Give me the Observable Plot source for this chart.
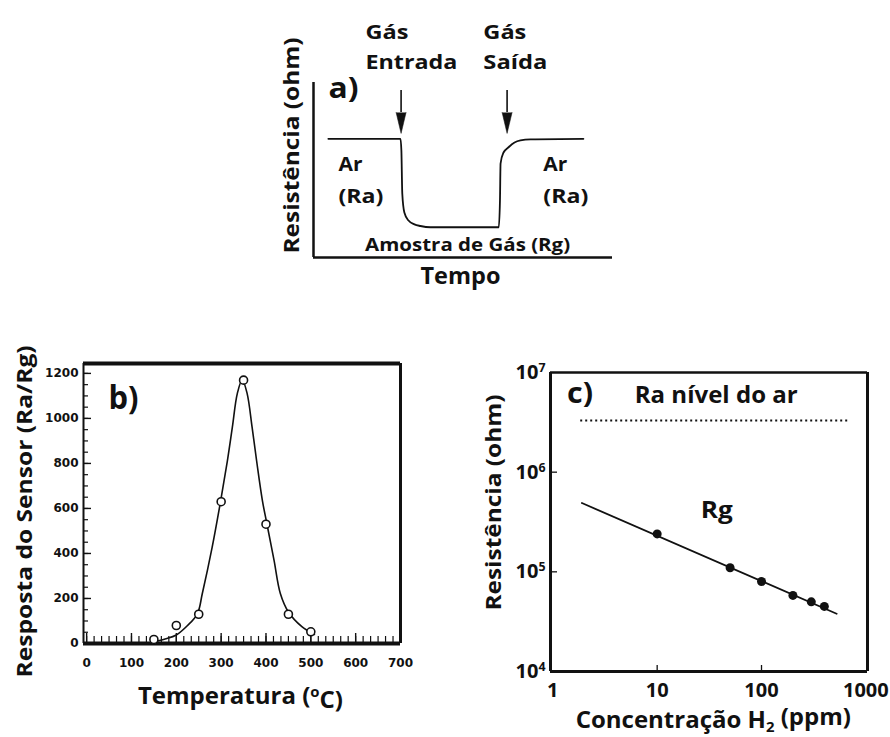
<!DOCTYPE html>
<html>
<head>
<meta charset="utf-8">
<script src="https://cdn.jsdelivr.net/npm/d3@7"></script>
<script src="https://cdn.jsdelivr.net/npm/@observablehq/plot@0.6"></script>
<style>
  html, body { margin: 0; padding: 0; background: #fff; }
  #root { position: relative; width: 890px; height: 737px; background: #fff; overflow: hidden; }
</style>
</head>
<body>
<div id="root"></div>
<script>
// ---------- a) schematic sensor response (arbitrary units) ----------
const aTime   = [5.0, 29.3, 29.6, 29.9, 30.6, 32.0, 34.0, 36.0, 39.4, 62.4, 62.8, 63.0, 64.0, 65.7, 67.7, 69.7, 73.1, 90.9];
const aResist = [67.8, 67.8, 61.1, 36.6, 25.7, 21.1, 18.9, 18.0, 17.3, 17.3, 32.6, 53.7, 60.0, 63.0, 65.7, 66.9, 67.5, 67.8];
const aArrowTime = [29.5, 65.2];
const aArrowTop = 95.4;
const aArrowBase = 82.9;

// ---------- b) sensor response vs temperature ----------
const bTemp = [150, 200, 250, 300, 350, 400, 450, 500];
const bResp = [18, 80, 130, 630, 1170, 530, 130, 52];
const bFitTemp = [145, 175, 200, 225, 247, 258, 280, 299, 314, 325, 336, 347, 358, 369, 379, 392, 402, 418, 432, 450, 480, 508];
const bFitResp = [5, 20, 38, 80, 132, 222, 428, 635, 813, 961, 1110, 1172, 1110, 961, 813, 635, 532, 369, 222, 140, 75, 40];
const bTempTicks = [0, 100, 200, 300, 400, 500, 600, 700];
const bRespTicks = [0, 200, 400, 600, 800, 1000, 1200];
const bXDomain = [-7, 700];
const bYDomain = [0, 1244];

// ---------- c) resistance vs H2 concentration ----------
const cConc = [10, 50, 100, 200, 300, 400];
const cRg = [2.4e5, 1.1e5, 8.0e4, 5.8e4, 5.0e4, 4.5e4];
const cFitConc = [1.9, 525];
const cFitRg = [4.9e5, 3.8e4];
const cRaLevel = 3.3e6;
const cRaSpan = [1.85, 710];
const cConcTicks = [1, 10, 100, 1000];
const cResTicks = [1e4, 1e5, 1e6, 1e7];
const cXDomain = [0.95, 1037];
const cYDomain = [1e4, 1e7];

const INK = "#111";
const SANS = "Open Sans";
const root = document.getElementById("root");
function place(svg, left, top) {
  svg.style.position = "absolute";
  svg.style.left = left + "px";
  svg.style.top = top + "px";
  svg.style.overflow = "visible";
  svg.style.background = "transparent";
  root.appendChild(svg);
}
function label(text, opts) {
  return Plot.text([text], {text: d => d, fill: INK, fontFamily: SANS, fontWeight: "bold", ...opts});
}

// ================= Panel a =================
const aLine = aTime.map((t, i) => ({t, r: aResist[i]}));
const aArrows = aArrowTime.map(t => ({t, top: aArrowTop, base: aArrowBase}));
const plotA = Plot.plot({
  width: 350, height: 300,
  marginLeft: 43, marginRight: 8, marginTop: 82, marginBottom: 43,
  x: {domain: [0, 100.7], axis: null},
  y: {domain: [0, 100], axis: null},
  style: {fontFamily: SANS, background: "transparent"},
  marks: [
    Plot.ruleX([0], {y1: 0, y2: 100, stroke: INK, strokeWidth: 2.5}),
    Plot.ruleY([0], {x1: 0, x2: 100.7, stroke: INK, strokeWidth: 2.5}),
    Plot.line(aLine, {x: "t", y: "r", curve: "monotone-x", stroke: INK, strokeWidth: 1.8}),
    Plot.ruleX(aArrows, {x: "t", y1: "top", y2: "base", stroke: INK, strokeWidth: 1.6}),
    Plot.vector(aArrows, {x: "t", y: "base", length: 21, rotate: 180, anchor: "start", shape: "spike", r: 5, fill: INK, stroke: INK, strokeWidth: 0.5}),
    label("Gás", {x: 17.5, y: 124.6, textAnchor: "start", lineAnchor: "bottom", fontSize: 20}),
    label("Entrada", {x: 17.5, y: 108, textAnchor: "start", lineAnchor: "bottom", fontSize: 20}),
    label("Gás", {x: 57.2, y: 124.6, textAnchor: "start", lineAnchor: "bottom", fontSize: 20}),
    label("Saída", {x: 57.2, y: 108, textAnchor: "start", lineAnchor: "bottom", fontSize: 20}),
    label("a)", {x: 5.05, y: 91.4, textAnchor: "start", lineAnchor: "bottom", fontSize: 28}),
    label("Ar", {x: 8.4, y: 49.7, textAnchor: "start", lineAnchor: "bottom", fontSize: 19}),
    label("(Ra)", {x: 8.4, y: 30.9, textAnchor: "start", lineAnchor: "bottom", fontSize: 19}),
    label("Ar", {x: 77.4, y: 49.7, textAnchor: "start", lineAnchor: "bottom", fontSize: 19}),
    label("(Ra)", {x: 77.4, y: 30.9, textAnchor: "start", lineAnchor: "bottom", fontSize: 19}),
    label("Amostra de Gás (Rg)", {x: 51.9, y: 4.0, textAnchor: "middle", lineAnchor: "bottom", fontSize: 17}),
    label("Resistência (ohm)", {x: -7.1, y: 64, rotate: -90, textAnchor: "middle", lineAnchor: "middle", fontSize: 21}),
    label("Tempo", {x: 49.5, y: -14.9, textAnchor: "middle", lineAnchor: "bottom", fontSize: 23})
  ]
});
place(plotA, 270, 0);

// ================= Panel b =================
const bPoints = bTemp.map((x, i) => ({x, y: bResp[i]}));
const bFit = bFitTemp.map((x, i) => ({x, y: bFitResp[i]}));
const bUnitPerPxX = (bXDomain[1] - bXDomain[0]) / (420 - 83 - 20);
const bUnitPerPxY = (bYDomain[1] - bYDomain[0]) / (390 - 33 - 77);
const bMinorX = d3.range(0, 43).map(i => i * 100 / 6);
const bMinorY = d3.range(0, 1201, 50);
const tickStyle = {fontFamily: "DejaVu Sans", fontWeight: "bold", fontSize: 12, fill: INK};
const plotB = Plot.plot({
  width: 420, height: 390,
  marginLeft: 83, marginRight: 20, marginTop: 33, marginBottom: 77,
  x: {domain: bXDomain, label: null},
  y: {domain: bYDomain, label: null},
  style: {fontFamily: SANS, background: "transparent"},
  marks: [
    // inward minor / major ticks
    Plot.ruleX(bMinorX, {x: d => d, y1: 0, y2: 7 * bUnitPerPxY, stroke: INK, strokeWidth: 1.2}),
    Plot.ruleX(bTempTicks, {x: d => d, y1: 0, y2: 10 * bUnitPerPxY, stroke: INK, strokeWidth: 1.4}),
    Plot.ruleY(bMinorY, {y: d => d, x1: bXDomain[0], x2: bXDomain[0] + 5 * bUnitPerPxX, stroke: INK, strokeWidth: 1.2}),
    Plot.ruleY(bRespTicks, {y: d => d, x1: bXDomain[0], x2: bXDomain[0] + 8 * bUnitPerPxX, stroke: INK, strokeWidth: 1.4}),
    Plot.axisX({ticks: bTempTicks, tickSize: 0, tickPadding: 15, tickFormat: d => String(d), label: null, ...tickStyle}),
    Plot.axisY({ticks: bRespTicks, tickSize: 0, tickPadding: 5, tickFormat: d => String(d), label: null, ...tickStyle}),
    Plot.ruleY([bYDomain[1]], {stroke: INK, strokeWidth: 4}),
    Plot.ruleY([bYDomain[0]], {stroke: INK, strokeWidth: 4}),
    Plot.ruleX([bXDomain[0]], {stroke: INK, strokeWidth: 2}),
    Plot.ruleX([bXDomain[1]], {stroke: INK, strokeWidth: 3}),
    Plot.line(bFit, {x: "x", y: "y", curve: "catmull-rom", stroke: INK, strokeWidth: 1.6}),
    Plot.dot(bPoints, {x: "x", y: "y", r: 4, stroke: INK, strokeWidth: 1.6, fill: "white"}),
    label("b)", {x: 48.8, y: 1044, textAnchor: "start", lineAnchor: "bottom", fontSize: 33}),
    label("Resposta do Sensor (Ra/Rg)", {x: -138.6, y: 587, rotate: -90, textAnchor: "middle", lineAnchor: "middle", fontSize: 22}),
    label("Temperatura (^oC)", {x: 343, y: -267, textAnchor: "middle", lineAnchor: "bottom", fontSize: 24})
  ]
});
place(plotB, 0, 330);

// ================= Panel c =================
const cPoints = cConc.map((x, i) => ({x, y: cRg[i]}));
const cFit = cFitConc.map((x, i) => ({x, y: cFitRg[i]}));
const cDecPerPxX = Math.log10(cXDomain[1] / cXDomain[0]) / (440 - 100 - 23);
const cDecPerPxY = Math.log10(cYDomain[1] / cYDomain[0]) / (407 - 42 - 66);
const cTickStyle = {fontFamily: SANS, fontWeight: "bold", fontSize: 20, fill: INK};
const plotC = Plot.plot({
  width: 440, height: 407,
  marginLeft: 100, marginRight: 23, marginTop: 42, marginBottom: 66,
  x: {type: "log", domain: cXDomain, label: null},
  y: {type: "log", domain: cYDomain, label: null},
  style: {fontFamily: SANS, background: "transparent"},
  marks: [
    Plot.ruleX(cConcTicks.slice(1, 3), {x: d => d, y1: cYDomain[0], y2: cYDomain[0] * Math.pow(10, 6 * cDecPerPxY), stroke: INK, strokeWidth: 1.3}),
    Plot.ruleY(cResTicks.slice(1, 3), {y: d => d, x1: cXDomain[0], x2: cXDomain[0] * Math.pow(10, 7 * cDecPerPxX), stroke: INK, strokeWidth: 1.3}),
    Plot.axisX({ticks: cConcTicks, tickSize: 0, tickPadding: 11, tickFormat: d => String(d), label: null, ...cTickStyle}),
    Plot.axisY({ticks: cResTicks, tickSize: 0, tickPadding: 5, tickFormat: d => "10^" + Math.round(Math.log10(d)), label: null, ...cTickStyle}),
    Plot.ruleY([cYDomain[1]], {stroke: INK, strokeWidth: 2.5}),
    Plot.ruleY([cYDomain[0]], {stroke: INK, strokeWidth: 3}),
    Plot.ruleX([cXDomain[0]], {stroke: INK, strokeWidth: 3}),
    Plot.ruleX([cXDomain[1]], {stroke: INK, strokeWidth: 3}),
    Plot.ruleY([cRaLevel], {x1: cRaSpan[0], x2: cRaSpan[1], stroke: INK, strokeWidth: 2, strokeDasharray: "2,3"}),
    Plot.line(cFit, {x: "x", y: "y", stroke: INK, strokeWidth: 1.8}),
    Plot.dot(cPoints, {x: "x", y: "y", r: 4.5, fill: INK}),
    label("c)", {x: 1.37, y: 4.9e6, textAnchor: "start", lineAnchor: "bottom", fontSize: 28}),
    label("Ra nível do ar", {x: 36.8, y: 5.0e6, textAnchor: "middle", lineAnchor: "bottom", fontSize: 23}),
    label("Rg", {x: 37.2, y: 3.5e5, textAnchor: "middle", lineAnchor: "bottom", fontSize: 23}),
    label("Resistência (ohm)", {x: 0.274, y: 4.95e5, rotate: -90, textAnchor: "middle", lineAnchor: "middle", fontSize: 22}),
    label("Concentração H_2 (ppm)", {x: 34.5, y: 2741, textAnchor: "middle", lineAnchor: "bottom", fontSize: 24})
  ]
});
place(plotC, 450, 330);

// ---- rich text: superscripts / subscripts as real tspans, widths matched to the figure ----
const targetWidth = {
  "Gás": 43, "Entrada": 92, "Saída": 64, "a)": 30, "Ar": 24, "(Ra)": 45,
  "Amostra de Gás (Rg)": 205, "Resistência (ohm)": 216, "Tempo": 80,
  "b)": 30, "Resposta do Sensor (Ra/Rg)": 332,
  "c)": 26, "Ra nível do ar": 163, "Rg": 32
};
d3.select(root).selectAll("text").each(function() {
  const el = d3.select(this);
  const t = this.textContent;
  let m;
  if ((m = t.match(/^10\^(\d+)$/))) {
    el.text("10");
    el.append("tspan").attr("dy", "-0.55em").attr("font-size", "0.62em").text(m[1]);
  } else if (t === "Temperatura (^oC)") {
    el.text("Temperatura (");
    el.append("tspan").attr("dy", "-0.45em").attr("font-size", "0.62em").text("o");
    el.append("tspan").attr("dy", "0.45em").text("C)");
  } else if (t === "Concentração H_2 (ppm)") {
    el.text("Concentração H");
    el.append("tspan").attr("dy", "0.3em").attr("font-size", "0.62em").text("2");
    el.append("tspan").attr("dy", "-0.3em").text(" (ppm)");
  }
  if (targetWidth[t]) {
    el.attr("textLength", targetWidth[t]).attr("lengthAdjust", "spacingAndGlyphs");
  }
});
</script>
</body>
</html>
